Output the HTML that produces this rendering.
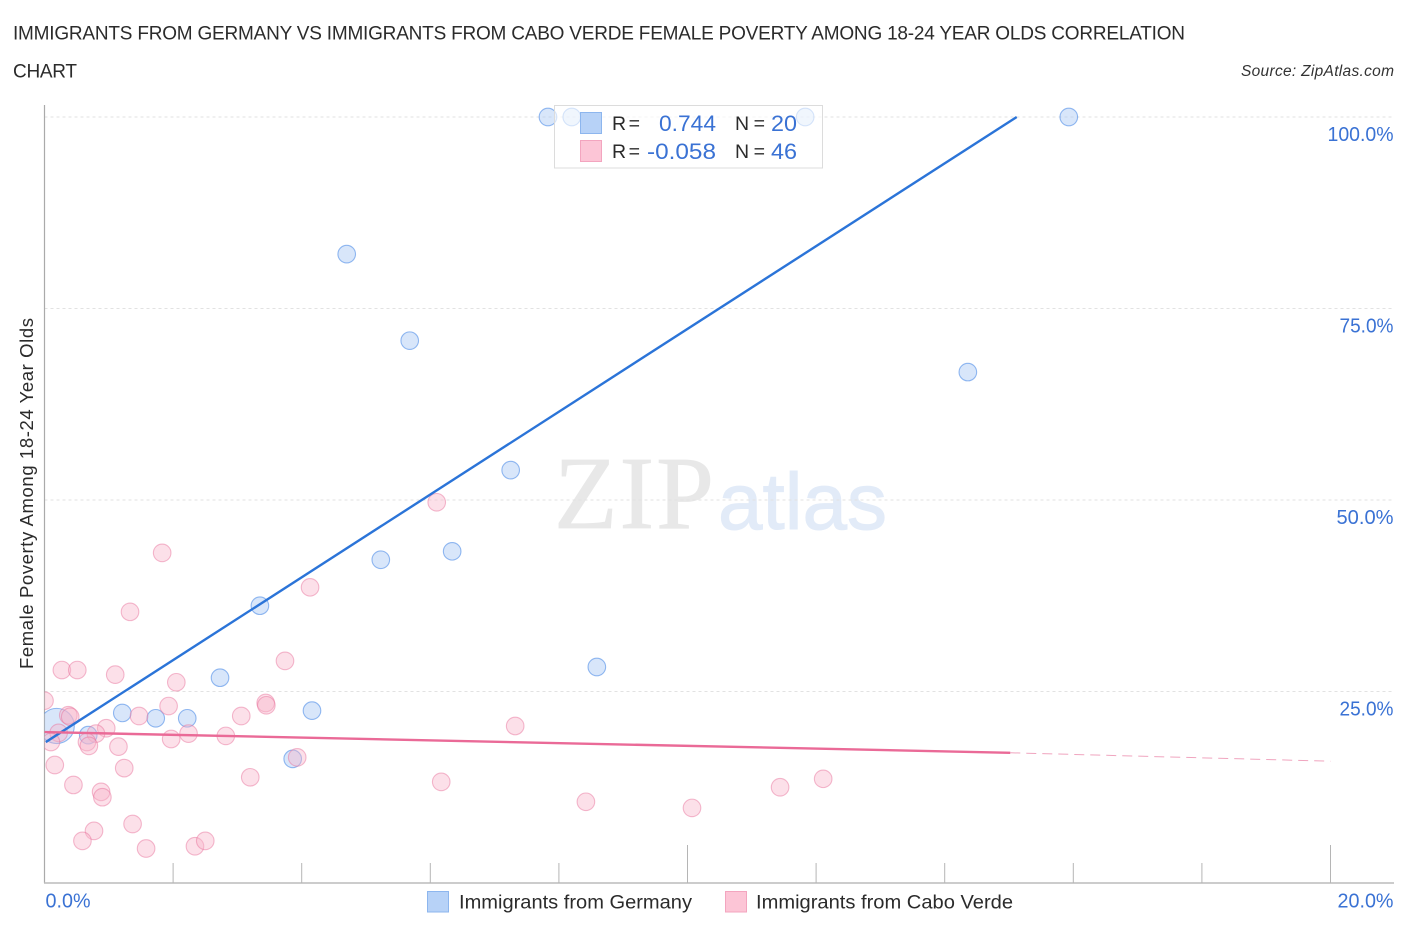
<!DOCTYPE html>
<html lang="en">
<head>
<meta charset="utf-8">
<title>Immigrants from Germany vs Immigrants from Cabo Verde Female Poverty Correlation Chart</title>
<style>
html,body{margin:0;padding:0;background:#fff;}
svg{display:block;font-family:"Liberation Sans",sans-serif;}
</style>
</head>
<body>
<svg id="chart" xmlns="http://www.w3.org/2000/svg" width="1406" height="930" viewBox="0 0 1406 930">
  <defs>
    <clipPath id="plot-clip"><rect x="44.5" y="90" width="1360" height="800"/></clipPath>
  </defs>
  <text x="13" y="39.5" font-size="19" fill="#2b2b2b" textLength="1172">IMMIGRANTS FROM GERMANY VS IMMIGRANTS FROM CABO VERDE FEMALE POVERTY AMONG 18-24 YEAR OLDS CORRELATION</text>
  <text x="13" y="77.5" font-size="19" fill="#2b2b2b" textLength="64">CHART</text>
  <text x="1241" y="76" font-size="15.5" font-style="italic" fill="#333" textLength="153">Source: ZipAtlas.com</text>

  <text x="554" y="528" font-family="'Liberation Serif',serif" font-size="104" fill="#e8e8e8" stroke="#e8e8e8" stroke-width="0.8" textLength="160">ZIP</text>
  <text x="718" y="529" font-size="80" fill="#e2ebf8" stroke="#e2ebf8" stroke-width="1" textLength="169">atlas</text>

  <g id="grid"></g>
  <g id="axes"></g>
  <g id="points" clip-path="url(#plot-clip)"></g>
  <g id="trends"></g>

  <text transform="translate(33,669) rotate(-90)" font-size="18.5" fill="#2b2b2b" textLength="351">Female Poverty Among 18-24 Year Olds</text>

  <g>
    <rect x="554.5" y="105.5" width="268" height="62.5" fill="#fff" fill-opacity="0.62" stroke="#dcdcdc"/>
    <rect x="580.5" y="112.5" width="21" height="21" fill="#b7d2f7" stroke="#8db6ee"/>
    <rect x="580.5" y="140.5" width="21" height="21" fill="#fcc5d6" stroke="#f3a5bf"/>
    <text x="612" y="130" font-size="19.5" fill="#2b2b2b" textLength="28">R =</text>
    <text x="659" y="131" font-size="22.5" fill="#3a72d4" textLength="57" lengthAdjust="spacingAndGlyphs">0.744</text>
    <text x="735" y="130" font-size="19.5" fill="#2b2b2b" textLength="30">N =</text>
    <text x="771" y="131" font-size="22.5" fill="#3a72d4" textLength="26" lengthAdjust="spacingAndGlyphs">20</text>
    <text x="612" y="158" font-size="19.5" fill="#2b2b2b" textLength="28">R =</text>
    <text x="647" y="159" font-size="22.5" fill="#3a72d4" textLength="69" lengthAdjust="spacingAndGlyphs">-0.058</text>
    <text x="735" y="158" font-size="19.5" fill="#2b2b2b" textLength="30">N =</text>
    <text x="771" y="159" font-size="22.5" fill="#3a72d4" textLength="26" lengthAdjust="spacingAndGlyphs">46</text>
  </g>

  <g>
    <rect x="427.5" y="891.5" width="21" height="20.5" fill="#b7d2f7" stroke="#8db6ee"/>
    <text x="459" y="908.5" font-size="19.5" fill="#2b2b2b" textLength="233" lengthAdjust="spacingAndGlyphs">Immigrants from Germany</text>
    <rect x="725.5" y="891.5" width="21" height="20.5" fill="#fcc5d6" stroke="#f3a5bf"/>
    <text x="756" y="908.5" font-size="19.5" fill="#2b2b2b" textLength="257" lengthAdjust="spacingAndGlyphs">Immigrants from Cabo Verde</text>
  </g>
</svg>
<script>
// Tick values and labels
const yTicks = [100, 75, 50, 25];
const yTickLabels = ['100.0%', '75.0%', '50.0%', '25.0%'];
const xTicks = [0, 2, 4, 6, 8, 10, 12, 14, 16, 18, 20];
const xMajorTicks = [10, 20];
const xLabelValues = [0, 20];
const xTickLabels = ['0.0%', '20.0%'];

// Series: Immigrants from Germany
const germanyX = [7.83, 8.20, 11.83, 15.93, 4.70, 5.68, 14.36, 7.25, 6.34, 5.23, 3.35, 8.59, 2.73, 4.16, 1.21, 1.73, 2.22, 0.68, 3.86, 0.19];
const germanyY = [100, 100, 100, 100, 82.1, 70.8, 66.7, 53.9, 43.3, 42.2, 36.2, 28.2, 26.8, 22.5, 22.2, 21.5, 21.5, 19.3, 16.2, 20.5];
const germanyWeight = [1, 1, 1, 1, 1, 1, 1, 1, 1, 1, 1, 1, 1, 1, 1, 1, 1, 1, 1, 4];

// Series: Immigrants from Cabo Verde
const caboVerdeX = [0.0, 0.27, 0.51, 1.10, 2.05, 3.74, 1.93, 3.06, 3.44, 3.45, 1.47, 0.37, 0.40, 0.22, 0.10, 0.96, 0.80, 0.66, 0.69, 1.15, 1.97, 2.24, 2.82, 3.93, 0.16, 1.24, 0.45, 3.20, 0.88, 0.90, 1.37, 0.77, 0.59, 1.58, 2.34, 2.50, 1.83, 1.33, 4.13, 6.10, 7.32, 6.17, 8.42, 10.07, 11.44, 12.11];
const caboVerdeY = [23.8, 27.8, 27.8, 27.2, 26.2, 29.0, 23.1, 21.8, 23.5, 23.2, 21.8, 21.9, 21.7, 19.6, 18.4, 20.2, 19.5, 18.4, 17.9, 17.8, 18.8, 19.5, 19.2, 16.4, 15.4, 15.0, 12.8, 13.8, 11.9, 11.2, 7.7, 6.8, 5.5, 4.5, 4.8, 5.5, 43.1, 35.4, 38.6, 49.7, 20.5, 13.2, 10.6, 9.8, 12.5, 13.6];

// Trend lines (x in %, y in %)
const germanyTrendX = [0.02, 15.12];
const germanyTrendY = [18.4, 100];
const caboVerdeTrendX = [0, 15.02];
const caboVerdeTrendY = [19.7, 17.0];
const caboVerdeDashX = [15.02, 20];
const caboVerdeDashY = [17.0, 15.9];

const NS = 'http://www.w3.org/2000/svg';
const scaleX = v => 44.5 + v * 64.3;
const scaleY = v => 883 - v * 7.66;
const make = (tag, props, parent) => {
  const el = document.createElementNS(NS, tag);
  Object.keys(props).forEach(k => el.setAttribute(k, props[k]));
  parent.appendChild(el);
  return el;
};
// Width of a tick label in the reference's wider numeral face
const labelWidth = s => [...s].reduce((w, c) => w + (c === '%' ? 17 : c === '.' ? 4 : '127'.includes(c) ? 9 : 12), 0);

const grid = document.getElementById('grid');
const axes = document.getElementById('axes');
const points = document.getElementById('points');
const trends = document.getElementById('trends');

yTicks.forEach((v, i) => {
  const line = make('line', {x1: 44.5, x2: 1393, y1: scaleY(v), y2: scaleY(v), stroke: '#e2e2e2', 'stroke-width': 1, 'stroke-dasharray': '3 3'}, grid);
  
  
  const width = labelWidth(yTickLabels[i]);
  const label = make('text', {x: 1393.5 - width, y: scaleY(v) + 24, 'font-size': 20.5, fill: '#3a72d4', textLength: width, lengthAdjust: 'spacingAndGlyphs'}, axes);
  
  
  label.textContent = yTickLabels[i];
});

const yAxis = make('line', {x1: 44.5, x2: 44.5, y1: 105, y2: 883, stroke: '#aaaaaa', 'stroke-width': 1.2}, axes);


const xAxis = make('line', {x1: 44, x2: 1394, y1: 883, y2: 883, stroke: '#bbbbbb', 'stroke-width': 1.4}, axes);



xTicks.forEach(v => {
  if (v === 0) return;
  const top = xMajorTicks.includes(v) ? 845 : 863;
  const tick = make('line', {x1: scaleX(v), x2: scaleX(v), y1: top, y2: 883, stroke: '#b5b5b5', 'stroke-width': 1}, axes);
  
  
});

xLabelValues.forEach((v, i) => {
  const end = v > 0;
  const width = labelWidth(xTickLabels[i]) + (end ? 2 : 0);
  const label = make('text', {x: end ? 1393.5 - width : 45.5, y: 907.5, 'font-size': 20.5, fill: '#3a72d4', textLength: width, lengthAdjust: 'spacingAndGlyphs'}, axes);
  
  
  label.textContent = xTickLabels[i];
});

germanyX.forEach((v, i) => {
  const dot = make('circle', {cx: scaleX(v), cy: scaleY(germanyY[i]), r: 8.8 * Math.sqrt(germanyWeight[i]), fill: '#a9c9f4', 'fill-opacity': 0.46, stroke: '#3f84e5', 'stroke-opacity': 0.55, 'stroke-width': 1.1}, points);
  
  
});

caboVerdeX.forEach((v, i) => {
  const dot = make('circle', {cx: scaleX(v), cy: scaleY(caboVerdeY[i]), r: 8.8, fill: '#f8b5ca', 'fill-opacity': 0.42, stroke: '#e8709a', 'stroke-opacity': 0.48, 'stroke-width': 1.1}, points);
  
  
});

const blueLine = make('line', {x1: scaleX(germanyTrendX[0]), y1: scaleY(germanyTrendY[0]), x2: scaleX(germanyTrendX[1]), y2: scaleY(germanyTrendY[1]), stroke: '#2b74d8', 'stroke-width': 2.4}, trends);



const pinkLine = make('line', {x1: scaleX(caboVerdeTrendX[0]), y1: scaleY(caboVerdeTrendY[0]), x2: scaleX(caboVerdeTrendX[1]), y2: scaleY(caboVerdeTrendY[1]), stroke: '#ea6a97', 'stroke-width': 2.4}, trends);



const pinkDash = make('line', {x1: scaleX(caboVerdeDashX[0]), y1: scaleY(caboVerdeDashY[0]), x2: scaleX(caboVerdeDashX[1]), y2: scaleY(caboVerdeDashY[1]), stroke: '#f0a5bf', 'stroke-width': 1, 'stroke-dasharray': '10 6'}, trends);


</script>
</body>
</html>
